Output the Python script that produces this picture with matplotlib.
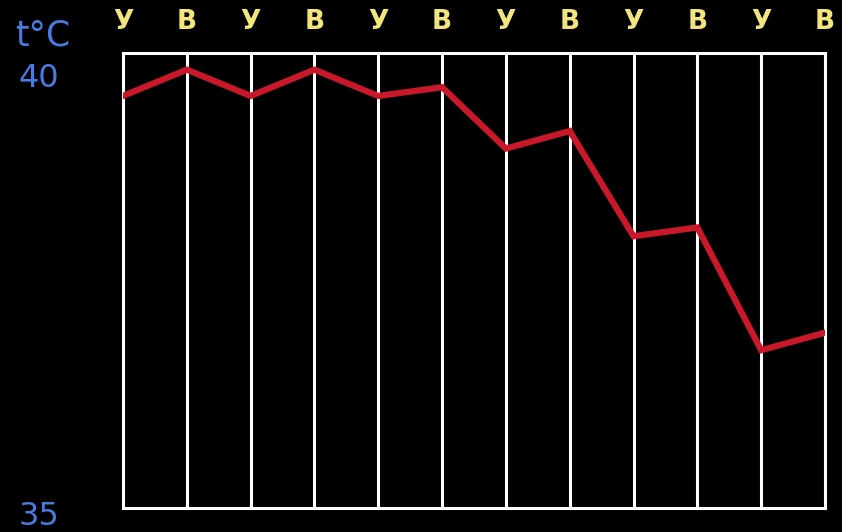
import matplotlib

matplotlib.use("Agg")
import matplotlib.pyplot as plt
from matplotlib.transforms import ScaledTranslation

# temperature readings, morning (У) / evening (В)
readings = [39.7, 40.0, 39.7, 40.0, 39.7, 39.8, 39.1, 39.3, 38.1, 38.2, 36.8, 37.0]
day_part = ["У", "В"] * 6
y_ticks = [35, 40]
unit_label = "t°C"

fig = plt.figure(figsize=(8.42, 5.32), dpi=100, facecolor="black")
ax = fig.add_axes([123 / 842, 24 / 532, 702 / 842, 455 / 532], facecolor="black")

x = list(range(len(readings)))
ax.plot(x, readings, color="#c8182a", linewidth=4.5, solid_joinstyle="miter", zorder=3)

ax.set_xlim(0, len(readings) - 1)
ax.set_ylim(35, 40.19)

# vertical grid lines at each reading
ax.set_xticks(x)
ax.set_xticklabels(day_part)
ax.grid(True, axis="x", color="white", linewidth=2.2, zorder=2)
ax.xaxis.tick_top()
ax.tick_params(axis="x", length=0, pad=13, labelcolor="#f2e67a", labelsize=19)
for lbl in ax.get_xticklabels():
    lbl.set_fontweight("bold")

ax.set_yticks(y_ticks)
ax.set_yticklabels([str(v) for v in y_ticks])
ax.tick_params(axis="y", length=0, pad=46, labelcolor="#4a7be0", labelsize=23)
shift = ScaledTranslation(0, -3.5 / 72, fig.dpi_scale_trans)
for lbl in ax.get_yticklabels():
    lbl.set_transform(lbl.get_transform() + shift)

for side in ["top", "bottom", "left", "right"]:
    ax.spines[side].set_color("white")
    ax.spines[side].set_linewidth(2.2)

fig.text(15 / 842, 1 - 36 / 532, unit_label, color="#4a7be0", fontsize=25,
         ha="left", va="center")

fig.savefig("out.png", dpi=100, facecolor="black")
